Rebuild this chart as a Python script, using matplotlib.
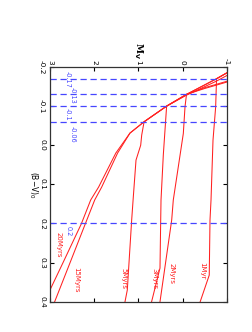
import matplotlib
matplotlib.use("Agg")
import matplotlib.pyplot as plt

plt.rcParams['axes.unicode_minus'] = False
plt.rcParams['font.family'] = ['DejaVu Sans']

# Isochrones: (B-V)_0 and M_V
ages = ["1Myr", "2Myrs", "3Myrs", "5Myrs", "15Myrs", "20Myrs"]

bv_1 = [-0.188, -0.170, -0.098, -0.013, 0.140, 0.191, 0.332, 0.400]
mv_1 = [-1.05, -0.770, -0.750, -0.690, -0.645, -0.622, -0.605, -0.400]

bv_2 = [-0.188, -0.170, -0.130, -0.098, -0.030, 0.140, 0.191, 0.400]
mv_2 = [-1.05, -0.770, -0.090, -0.056, -0.018, 0.209, 0.245, 0.510]

bv_3 = [-0.188, -0.170, -0.130, -0.100, 0.025, 0.140, 0.191, 0.314, 0.400]
mv_3 = [-1.05, -0.770, -0.090, 0.360, 0.435, 0.487, 0.494, 0.510, 0.700]

bv_5 = [-0.181, -0.164, -0.128, -0.100, -0.060, -0.026, 0.000, 0.038, 0.132, 0.191, 0.370, 0.400]
mv_5 = [-1.05, -0.770, -0.090, 0.360, 0.870, 0.924, 0.947, 1.053, 1.114, 1.151, 1.250, 1.302]

bv_15 = [-0.165, -0.147, -0.130, -0.100, -0.060, -0.031, 0.020, 0.107, 0.140, 0.201, 0.302, 0.400]
mv_15 = [-1.05, -0.50, -0.090, 0.360, 0.870, 1.190, 1.470, 1.830, 1.988, 2.201, 2.552, 2.894]

bv_20 = [-0.163, -0.145, -0.130, -0.100, -0.060, -0.031, 0.020, 0.107, 0.140, 0.201, 0.302, 0.370, 0.394]
mv_20 = [-1.05, -0.50, -0.090, 0.360, 0.870, 1.190, 1.510, 1.900, 2.079, 2.291, 2.713, 3.000, 3.100]

# Turn-on colours (dashed lines) and their labels
turnon_bv = [-0.17, -0.13, -0.10, -0.06, 0.20]
turnon_labels = ["-0.17", "-0.13", "-0.1", "-0.06", "0.2"]
turnon_label_mv = [2.60, 2.486, 2.60, 2.479, 2.570]
turnon_label_bv = [-0.1686, -0.1284, -0.080, -0.027, 0.2206]

# Age label positions
age_label_mv = [-0.44, 0.238, 0.646, 1.347, 2.411, 2.796]
age_label_bv = [0.322, 0.329, 0.340, 0.340, 0.345, 0.255]

mv_ticks = [3, 2, 1, 0, -1]
bv_ticks = [-0.2, -0.1, 0.0, 0.1, 0.2, 0.3, 0.4]
bv_ticklabels = ["-0.2", "-0.1", "0.0", "0.1", "0.2", "0.3", "0.4"]

fig = plt.figure(figsize=(2.52, 3.32), dpi=100)
ax = fig.add_axes([50/252, 1-301.7/332, 176.7/252, 234.7/332])

red = '#ff2020'
blue = '#4646ff'
for bv, mv in [(bv_1, mv_1), (bv_2, mv_2), (bv_3, mv_3), (bv_5, mv_5), (bv_15, mv_15), (bv_20, mv_20)]:
    ax.plot(mv, bv, color=red, lw=0.75)

for v in turnon_bv:
    ax.axhline(v, color=blue, lw=0.9, linestyle=(0, (5, 3)))

for t, x, y in zip(turnon_labels, turnon_label_mv, turnon_label_bv):
    ax.text(x, y, t, color=blue, fontsize=4.7, rotation=-90, ha='center', va='center')

for t, x, y in zip(ages, age_label_mv, age_label_bv):
    ax.text(x, y, t, color=red, fontsize=5, rotation=-90, ha='center', va='center')

ax.set_xlim(3, -1)
ax.set_ylim(0.4, -0.2)
ax.set_xticks(mv_ticks)
ax.set_xticklabels([str(t) for t in mv_ticks])
ax.set_yticks(bv_ticks)
ax.set_yticklabels(bv_ticklabels)
ax.tick_params(axis='both', direction='in', length=3, width=0.8,
               top=True, bottom=True, left=True, right=True,
               labeltop=True, labelbottom=False, labelsize=5.3)
ax.tick_params(axis='x', pad=1.5, labelrotation=-90)
ax.tick_params(axis='y', pad=3.5, labelrotation=-90)
for lab in ax.get_yticklabels():
    lab.set_va('center')
for s in ax.spines.values():
    s.set_linewidth(0.9)
    s.set_color('#333333')

fig.text(138/252, 1-50/332, 'M$_\\mathbf{V}$', rotation=-90, ha='center', va='center',
         fontsize=6.5, fontweight='bold', family='DejaVu Serif')
fig.text(33/252, 1-185/332, '(B\u2212V)$_0$', rotation=-90, ha='center', va='center', fontsize=5.5)

fig.savefig('out.png', dpi=100)
